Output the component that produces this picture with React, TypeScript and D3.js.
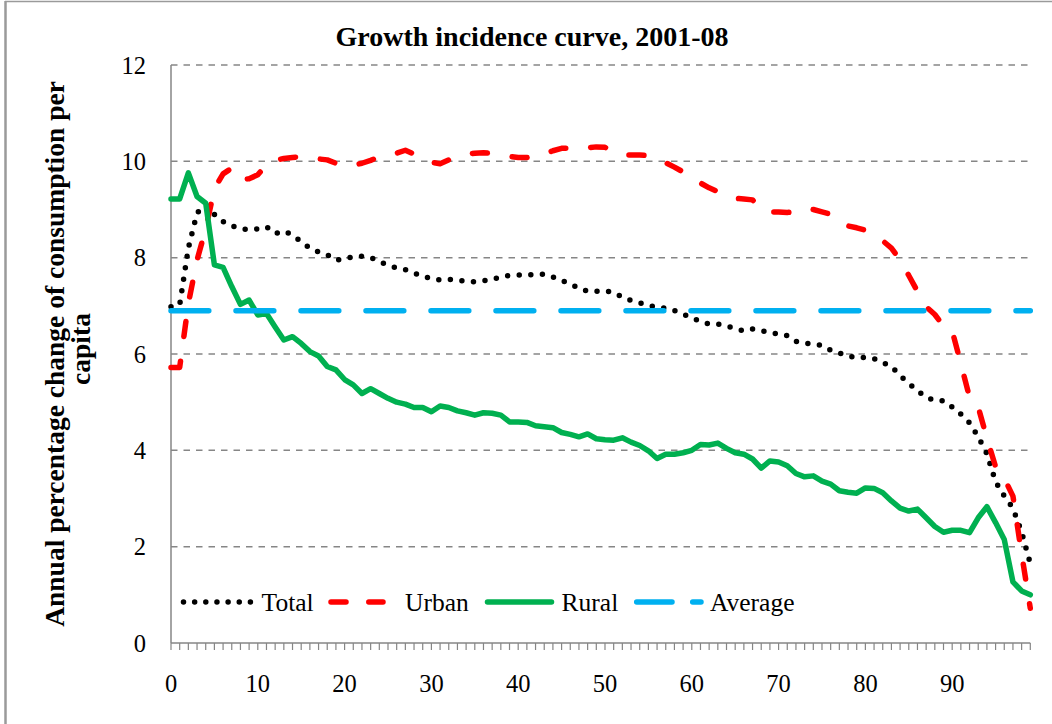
import React from 'react';
import * as d3 from 'd3';

// Percentiles of per-capita consumption (category axis)
const percentiles: number[] = Array.from({ length: 100 }, (_, i) => i);
const xTickLabels: number[] = [0, 10, 20, 30, 40, 50, 60, 70, 80, 90];
const yTicks: number[] = [0, 2, 4, 6, 8, 10, 12];

const total: number[] = [
  6.98, 7.02, 8.2, 8.93, 9.1, 8.9, 8.75, 8.66, 8.6, 8.58,
  8.6, 8.64, 8.5, 8.55, 8.47, 8.33, 8.2, 8.12, 8.06, 7.95,
  7.97, 8.02, 8.03, 8.0, 7.92, 7.84, 7.79, 7.75, 7.68, 7.62,
  7.56, 7.54, 7.55, 7.53, 7.51, 7.5, 7.52, 7.55, 7.6, 7.63,
  7.64, 7.64, 7.65, 7.66, 7.6, 7.53, 7.45, 7.37, 7.3, 7.3,
  7.31, 7.28, 7.18, 7.11, 7.06, 7.01, 6.97, 6.95, 6.9, 6.83,
  6.75, 6.68, 6.62, 6.62, 6.58, 6.53, 6.48, 6.52, 6.49, 6.44,
  6.42, 6.38, 6.26, 6.22, 6.21, 6.18, 6.08, 6.02, 5.96, 5.92,
  5.93, 5.9, 5.82, 5.74, 5.55, 5.39, 5.24, 5.1, 5.04, 5.03,
  4.9, 4.75, 4.57, 4.28, 3.93, 3.35, 3.05, 2.8, 2.3, 1.65,
];

const urban: number[] = [
  5.72, 5.72, 7.05, 7.95, 8.6, 9.43, 9.74, 9.86, 9.62, 9.64,
  9.72, 9.93, 10.02, 10.06, 10.08, 10.1, 10.07, 10.05, 10.03, 9.96,
  9.91, 9.92, 9.96, 10.02, 10.09, 10.12, 10.17, 10.23, 10.15, 10.05,
  9.98, 9.95, 10.03, 10.1, 10.15, 10.17, 10.18, 10.16, 10.13, 10.1,
  10.08, 10.08, 10.1, 10.16, 10.22, 10.27, 10.27, 10.29, 10.28, 10.3,
  10.29, 10.2, 10.13, 10.13, 10.13, 10.12, 10.06, 9.97, 9.88, 9.78,
  9.67, 9.55, 9.45, 9.37, 9.28, 9.23, 9.22, 9.2, 9.0, 8.95,
  8.95, 8.94, 8.95, 9.02, 9.0, 8.95, 8.9, 8.76, 8.66, 8.62,
  8.57, 8.47, 8.35, 8.2, 7.95, 7.63, 7.3, 6.98, 6.82, 6.58,
  6.48, 5.8, 5.1, 4.9, 4.25, 3.66, 3.42, 3.05, 1.85, 0.72,
];

const rural: number[] = [
  9.22, 9.22, 9.76, 9.27, 9.13, 7.85, 7.8, 7.4, 7.03, 7.12,
  6.81, 6.84, 6.56, 6.29, 6.36, 6.22, 6.05, 5.96, 5.74, 5.67,
  5.47, 5.36, 5.18, 5.28, 5.18, 5.08, 5.0, 4.96, 4.89, 4.89,
  4.8, 4.92, 4.89, 4.82, 4.78, 4.73, 4.78, 4.77, 4.73, 4.59,
  4.59, 4.58, 4.51, 4.49, 4.47, 4.37, 4.33, 4.28, 4.34, 4.24,
  4.22, 4.21, 4.26, 4.17, 4.1, 3.99, 3.83, 3.92, 3.92, 3.95,
  4.0, 4.12, 4.11, 4.15, 4.04, 3.95, 3.92, 3.82, 3.63, 3.78,
  3.76, 3.68, 3.52, 3.45, 3.47, 3.36, 3.3, 3.16, 3.13, 3.11,
  3.22, 3.21, 3.12, 2.95, 2.8, 2.74, 2.78, 2.6, 2.42, 2.3,
  2.34, 2.34, 2.29, 2.6, 2.83, 2.5, 2.15, 1.27, 1.08, 1.0,
];

const averageGrowth = 6.9;

const W = 1052;
const H = 724;
const PLOT = { left: 171, right: 1030.3, top: 65, bottom: 643 };

const COLORS = {
  total: '#000000',
  urban: '#FF0000',
  rural: '#00B050',
  average: '#00B0F0',
  axis: '#868686',
};

const serif = '"Liberation Serif", "Times New Roman", Times, serif';

export default function App() {
  const x = d3.scaleLinear().domain([0, 99]).range([PLOT.left, PLOT.right]);
  const y = d3.scaleLinear().domain([0, 12]).range([PLOT.bottom, PLOT.top]);
  const line = d3
    .line<number>()
    .x((_, i) => x(percentiles[i]))
    .y((d) => y(d));

  const legendY = 602;
  const legendTextY = 611;

  return (
    <svg
      width={W}
      height={H}
      style={{ position: 'absolute', left: 0, top: 0, display: 'block' }}
      fontFamily={serif}
    >
      <rect x={0} y={0} width={W} height={H} fill="#ffffff" />
      {/* outer frame */}
      <line x1={5} x2={W} y1={1.5} y2={1.5} stroke="#9a9a9a" strokeWidth={1.5} />
      <line x1={5.5} x2={5.5} y1={1} y2={H} stroke="#9a9a9a" strokeWidth={2.5} />

      {/* title */}
      <text x={532} y={46} textAnchor="middle" fontSize={28} fontWeight="bold" fill="#000">
        Growth incidence curve, 2001-08
      </text>

      {/* gridlines */}
      {yTicks
        .filter((v) => v > 0)
        .map((v) => (
          <line
            key={'g' + v}
            x1={x(0)}
            x2={x(99)}
            y1={y(v)}
            y2={y(v)}
            stroke={COLORS.axis}
            strokeWidth={1.5}
            strokeDasharray="6.5 6"
          />
        ))}

      {/* y axis */}
      <line x1={x(0)} x2={x(0)} y1={y(12)} y2={y(0)} stroke={COLORS.axis} strokeWidth={1.5} />
      {yTicks.map((v) => (
        <text key={'yl' + v} x={146} y={y(v) + 8.5} textAnchor="end" fontSize={24.5} fill="#000">
          {v}
        </text>
      ))}

      {/* x axis */}
      <line x1={x(0)} x2={x(99)} y1={y(0)} y2={y(0)} stroke={COLORS.axis} strokeWidth={1.5} />
      {percentiles.map((p) => (
        <line
          key={'xt' + p}
          x1={x(p)}
          x2={x(p)}
          y1={y(0)}
          y2={y(0) + 7}
          stroke={COLORS.axis}
          strokeWidth={1.2}
        />
      ))}
      {xTickLabels.map((v) => (
        <text key={'xl' + v} x={x(v)} y={692} textAnchor="middle" fontSize={24.5} fill="#000">
          {v}
        </text>
      ))}

      {/* y axis title */}
      <text
        transform={`translate(64,354) rotate(-90)`}
        textAnchor="middle"
        fontSize={27.5}
        fontWeight="bold"
        fill="#000"
      >
        Annual percentage change of consumption per
      </text>
      <text
        transform={`translate(90,349) rotate(-90)`}
        textAnchor="middle"
        fontSize={27.5}
        fontWeight="bold"
        fill="#000"
      >
        capita
      </text>

      {/* series */}
      <path
        d={line(total) || ''}
        fill="none"
        stroke={COLORS.total}
        strokeWidth={5.5}
        strokeLinecap="round"
        strokeDasharray="0 11.6"
      />
      <path
        d={line(urban) || ''}
        fill="none"
        stroke={COLORS.urban}
        strokeWidth={5.5}
        strokeLinecap="round"
        strokeLinejoin="round"
        strokeDasharray="15 25"
      />
      <path
        d={line(rural) || ''}
        fill="none"
        stroke={COLORS.rural}
        strokeWidth={5.5}
        strokeLinecap="round"
        strokeLinejoin="round"
      />
      <line
        x1={x(0)}
        x2={x(99)}
        y1={y(averageGrowth)}
        y2={y(averageGrowth)}
        stroke={COLORS.average}
        strokeWidth={5.5}
        strokeLinecap="round"
        strokeDasharray="37.8 27.2"
      />

      {/* legend */}
      <line x1={183.5} x2={250.5} y1={legendY} y2={legendY} stroke={COLORS.total} strokeWidth={5.5}
        strokeLinecap="round" strokeDasharray="0 11.15" />
      <text x={261.6} y={legendTextY} fontSize={25.5} fill="#000">Total</text>
      <line x1={331} x2={383} y1={legendY} y2={legendY} stroke={COLORS.urban} strokeWidth={5.5}
        strokeLinecap="round" strokeDasharray="15 22.8" />
      <text x={405} y={legendTextY} fontSize={25.5} fill="#000">Urban</text>
      <line x1={487.5} x2={551.5} y1={legendY} y2={legendY} stroke={COLORS.rural} strokeWidth={5.5}
        strokeLinecap="round" />
      <text x={561.6} y={legendTextY} fontSize={25.5} fill="#000">Rural</text>
      <line x1={636.7} x2={701} y1={legendY} y2={legendY} stroke={COLORS.average} strokeWidth={5.5}
        strokeLinecap="round" strokeDasharray="35.3 20.7" />
      <text x={710} y={legendTextY} fontSize={25.5} fill="#000">Average</text>
    </svg>
  );
}
